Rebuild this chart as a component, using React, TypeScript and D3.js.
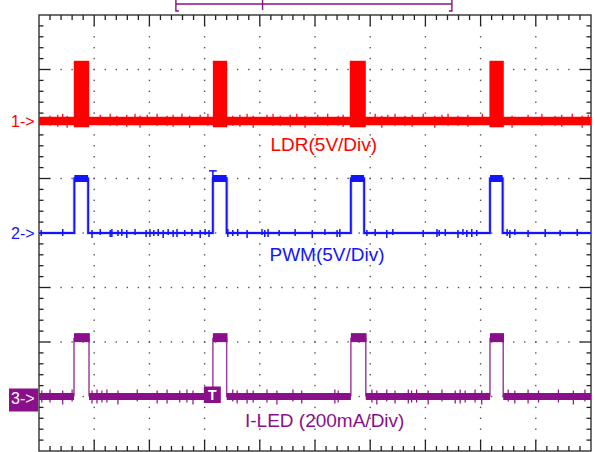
import React from 'react';
import * as d3 from 'd3';

// ---- data (time and amplitude in screen divisions) ----
const ldrPulses: number[][] = [[0.63, 0.91], [3.15, 3.41], [5.63, 5.92], [8.16, 8.42]];
const pwmPulses: number[][] = [[0.64, 0.89], [3.15, 3.4], [5.65, 5.89], [8.17, 8.4]];
const iledPulses: number[][] = [[0.634, 0.906], [3.15, 3.4], [5.65, 5.92], [8.17, 8.41]];
const ldrLevels = [6.05, 7.16]; // low, high
const pwmLevels = [4.0, 5.0];
const iledLevels = [1.0, 2.08];
const pwmOvershoot = [3.08, 3.22, 5.14]; // from, to, level
const triggerTime = 3.14;
const bracketMarks = [2.48, 4.05, 7.48];
const channelLabels = ['1->', '2->', '3->'];
const traceLabels = ['LDR(5V/Div)', 'PWM(5V/Div)', 'I-LED (200mA/Div)'];

const ldrSpikes = [0.2, 0.34, 0.43, 0.51, 1.11, 1.29, 1.41, 1.59, 1.74, 1.83, 1.96, 2.14, 2.32, 2.43, 2.59, 2.73, 2.92, 3.06, 3.51, 3.64, 3.77, 3.88, 4.13, 4.24, 4.37, 4.55, 4.67, 4.82, 5.05, 5.23, 5.42, 5.51, 6.09, 6.21, 6.32, 6.45, 6.63, 6.76, 6.96, 7.17, 7.3, 7.41, 7.59, 7.77, 8.03, 8.57, 8.86, 9.11, 9.35, 9.47, 9.66, 9.84, 9.95];
const pwmSpikes = [0.04, 0.43, 0.96, 1.11, 1.29, 1.32, 1.43, 1.5, 1.59, 1.74, 1.94, 2.01, 2.08, 2.16, 2.25, 2.34, 2.43, 2.5, 2.64, 2.77, 2.92, 3.01, 3.08, 3.42, 3.51, 3.6, 3.77, 4.04, 4.09, 4.15, 4.35, 4.64, 4.95, 5.18, 5.4, 5.45, 5.94, 6.09, 6.3, 6.41, 6.96, 7.21, 7.25, 7.36, 7.59, 7.68, 7.75, 7.84, 7.93, 8.48, 8.53, 8.62, 8.86, 9.17, 9.44, 9.75];
const iledSpikes = [0.05, 0.2, 0.43, 0.6, 0.96, 1.05, 1.14, 1.23, 1.43, 1.78, 2.14, 2.32, 2.55, 2.68, 2.79, 3.51, 3.59, 3.77, 3.88, 4.13, 4.31, 4.6, 4.76, 5.36, 5.42, 6.03, 6.12, 6.3, 6.45, 6.69, 6.75, 6.84, 7.05, 7.3, 7.54, 7.63, 7.72, 7.9, 8.02, 8.5, 8.62, 8.86, 9.05, 9.41, 9.68, 9.89];

const W = 595;
const H = 452;
const RED = '#ff0000';
const BLUE = '#1414ff';
const PURPLE = '#8a0f8a';
const FONT = 'Liberation Sans, Arial, sans-serif';

export default function App() {
  const x = d3.scaleLinear().domain([0, 10]).range([39, 591]);
  const y = d3.scaleLinear().domain([0, 8]).range([451, 15]);
  const sub = d3.range(1, 50).map((k) => k * 0.2);
  const subY = d3.range(1, 40).map((k) => k * 0.2);
  const isMajor = (v: number) => Math.abs(v - Math.round(v)) < 1e-6;

  const stepPoints = (pulses: number[][], lo: number, hi: number) => {
    const pts: [number, number][] = [[0, lo]];
    pulses.forEach(([s, e]) => {
      pts.push([s, lo], [s, hi], [e, hi], [e, lo]);
    });
    pts.push([10, lo]);
    return pts;
  };
  const line = d3.line<[number, number]>().x((d) => x(d[0])).y((d) => y(d[1]));

  const segments = (pulses: number[][]) => {
    const segs: number[][] = [];
    let prev = 0;
    pulses.forEach(([s, e]) => {
      segs.push([prev, s]);
      prev = e;
    });
    segs.push([prev, 10]);
    return segs;
  };

  const ldrY = y(ldrLevels[0]);
  const ledY = y(iledLevels[0]);

  return (
    <svg width={W} height={H} style={{ position: 'absolute', left: 0, top: 0, background: '#fff' }}>
      {/* grid dots */}
      <g fill="#555">
        {d3.range(1, 10).map((i) =>
          subY.map((v) => <rect key={`v${i}-${v}`} x={x(i) - 0.7} y={y(v) - 0.7} width={1.4} height={1.4} />)
        )}
        {d3.range(1, 8).map((j) =>
          sub.map((v) => <rect key={`h${j}-${v}`} x={x(v) - 0.7} y={y(j) - 0.7} width={1.4} height={1.4} />)
        )}
      </g>
      {/* frame and ticks */}
      <g stroke="#222" strokeWidth={1.3}>
        <rect x={x(0)} y={y(8)} width={x(10) - x(0)} height={y(0) - y(8)} fill="none" />
        {sub.map((v) => {
          const len = isMajor(v) ? 11 : 5;
          return (
            <g key={`tx${v}`}>
              <line x1={x(v)} x2={x(v)} y1={y(8)} y2={y(8) + len} />
              <line x1={x(v)} x2={x(v)} y1={y(0)} y2={y(0) - len} />
            </g>
          );
        })}
        {subY.map((v) => {
          const len = isMajor(v) ? 11 : 4.5;
          return (
            <g key={`ty${v}`}>
              <line x1={x(0)} x2={x(0) + len} y1={y(v)} y2={y(v)} />
              <line x1={x(10)} x2={x(10) - len} y1={y(v)} y2={y(v)} />
            </g>
          );
        })}
      </g>
      {/* top bracket */}
      <g stroke={PURPLE} strokeWidth={1.4} fill="none">
        <line x1={x(bracketMarks[0])} x2={x(bracketMarks[2])} y1={4} y2={4} />
        <path d={`M${x(bracketMarks[0])},0V11H${x(bracketMarks[0]) + 3}`} />
        <line x1={x(bracketMarks[1])} x2={x(bracketMarks[1])} y1={0} y2={10} />
        <path d={`M${x(bracketMarks[2])},0V11H${x(bracketMarks[2]) - 3}`} />
      </g>

      {/* channel 1 LDR */}
      <g fill={RED}>
        <rect x={x(0)} y={ldrY - 4.5} width={x(10) - x(0)} height={8.5} />
        {ldrPulses.map(([s, e], i) => (
          <rect key={`lp${i}`} x={x(s)} y={y(ldrLevels[1])} width={x(e) - x(s)} height={ldrY + 6 - y(ldrLevels[1])} />
        ))}
        {ldrSpikes.map((t, i) => (
          <rect key={`ls${i}`} x={x(t) - 0.6} y={ldrY - 5.5 - (i % 3)} width={1.2} height={10 + ((i * 2) % 4)} />
        ))}
      </g>

      {/* channel 2 PWM */}
      <g>
        <path d={line(stepPoints(pwmPulses, pwmLevels[0], pwmLevels[1])) || ''} fill="none" stroke="#8c8cff" strokeWidth={3.2} opacity={0.6} />
        <path d={line(stepPoints(pwmPulses, pwmLevels[0], pwmLevels[1])) || ''} fill="none" stroke={BLUE} strokeWidth={1.8} />
        {pwmPulses.map(([s, e], i) => (
          <rect key={`pb${i}`} x={x(s)} y={y(pwmLevels[1]) - 3.5} width={x(e) - x(s)} height={7} fill={BLUE} />
        ))}
        {pwmSpikes.map((t, i) => (
          <rect key={`ps${i}`} x={x(t) - 0.75} y={y(pwmLevels[0]) - 3 - (i % 2)} width={1.5} height={6 + (i % 3)} fill={BLUE} />
        ))}
        <g stroke={BLUE} strokeWidth={1.5} fill="none">
          <line x1={x(pwmOvershoot[0])} x2={x(pwmOvershoot[1])} y1={y(pwmOvershoot[2])} y2={y(pwmOvershoot[2])} />
          <line x1={x(pwmPulses[1][0])} x2={x(pwmPulses[1][0])} y1={y(pwmOvershoot[2])} y2={y(pwmLevels[1])} />
        </g>
      </g>

      {/* channel 3 I-LED */}
      <g>
        {iledPulses.map(([s, e], i) => (
          <g key={`ie${i}`} stroke="#a040a0" strokeWidth={1.5}>
            <line x1={x(s)} x2={x(s)} y1={ledY} y2={y(iledLevels[1])} />
            <line x1={x(e)} x2={x(e)} y1={ledY} y2={y(iledLevels[1])} />
          </g>
        ))}
        {segments(iledPulses).map(([a, b], i) => (
          <rect key={`ib${i}`} x={x(a)} y={ledY - 3.5} width={x(b) - x(a)} height={7} fill={PURPLE} />
        ))}
        {iledPulses.map(([s, e], i) => (
          <rect key={`it${i}`} x={x(s)} y={y(iledLevels[1]) - 4.5} width={x(e) - x(s) + 0.8} height={9} fill={PURPLE} />
        ))}
        {iledSpikes.map((t, i) => (
          <rect key={`is${i}`} x={x(t) - 0.6} y={ledY - 6 - (i % 2)} width={1.2} height={12 + (i % 3)} fill={PURPLE} />
        ))}
      </g>

      {/* channel markers */}
      <g fontFamily={FONT} fontSize={16}>
        <text x={11} y={ldrY + 6} fill={RED}>{channelLabels[0]}</text>
        <text x={11} y={y(pwmLevels[0]) + 6} fill={BLUE}>{channelLabels[1]}</text>
        <rect x={9} y={ledY - 8} width={29} height={23} fill={PURPLE} />
        <text x={11} y={ledY + 7} fill="#fff">{channelLabels[2]}</text>
        <rect x={x(triggerTime) - 8.5} y={ledY - 10} width={17} height={16.5} fill={PURPLE} />
        <text x={x(triggerTime)} y={ledY + 3.5} fill="#fff" fontSize={14} fontWeight="bold" textAnchor="middle">T</text>
      </g>

      {/* trace labels */}
      <g fontFamily={FONT} fontSize={19}>
        <text x={270.5} y={150.5} fill={RED}>{traceLabels[0]}</text>
        <text x={269.5} y={260.5} fill={BLUE}>{traceLabels[1]}</text>
        <text x={245} y={426.5} fill={PURPLE}>{traceLabels[2]}</text>
      </g>
    </svg>
  );
}
